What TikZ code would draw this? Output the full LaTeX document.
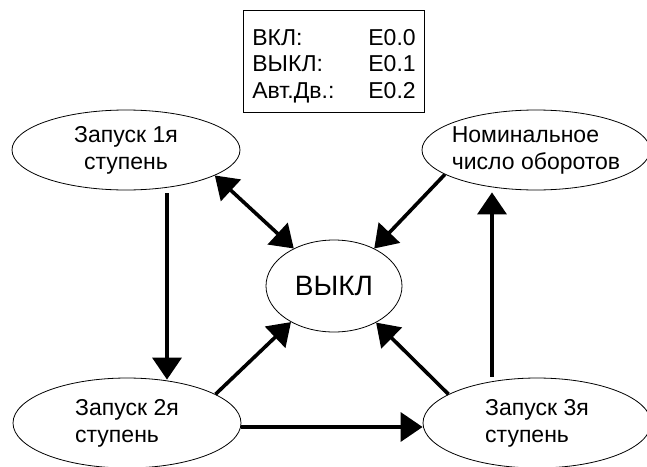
\documentclass[tikz,border=0pt]{standalone}
\usepackage{fontspec}
\setmainfont{Liberation Sans}
\usetikzlibrary{arrows.meta, positioning, shapes.geometric}
\tikzset{
>={Triangle[length=22pt,width=29pt]}, % big filled arrow heads
phase/.style={ellipse, draw, line width=0.8pt, minimum width=228pt, minimum height=80pt, inner xsep=-30pt, inner ysep=-10pt, align=left, font=\fontsize{23}{27}\selectfont}, % the states
flow/.style={->, line width=3.6pt}, % one-way transition
both/.style={<->, line width=3.6pt}, % two-way transition
}
\begin{document}
\begin{tikzpicture}[x=1pt, y=-1pt]
\useasboundingbox (0,0) rectangle (647,466);
\node[draw, line width=0.8pt, anchor=north west, inner xsep=9pt, inner ysep=6pt, font=\fontsize{23}{26.5}\selectfont] (legend) at (243,10)
    {\begin{tabular}{@{}p{116pt}@{}l@{}}\rule{0pt}{29pt}ВКЛ: & E0.0\\ ВЫКЛ: & E0.1\\ Авт.Дв.: & E0.2\end{tabular}};
\node[phase, align=center] (stage1) at (126,150) {Запуск 1я\\ступень};
\node[phase] (nominal) at (536,150) {Номинальное\\число оборотов};
\node[phase, minimum height=90pt] (stage2) at (127,423) {Запуск 2я\\ступень};
\node[phase, minimum height=90pt] (stage3) at (537,423) {Запуск 3я\\ступень};
\node[phase, minimum width=136pt, minimum height=92pt, font=\fontsize{28}{32}\selectfont] (off) at (334,286) {ВЫКЛ};
\draw[flow] ([xshift=41pt,yshift=-3pt]stage1.south) -- ([xshift=40pt,yshift=-2pt]stage2.north);
\draw[flow] ([yshift=-4pt]stage2.east) -- ([yshift=-4pt]stage3.west);
\draw[flow] ([xshift=-45pt,yshift=1pt]stage3.north) -- ([xshift=-44pt,yshift=-2pt]nominal.south);
\draw[both] (stage1.-16) -- (off.137);
\draw[flow] (nominal.195) -- (off.43);
\draw[flow] (stage2.18) -- (off.220);
\draw[flow] (stage3.162) -- (off.-41);
\end{tikzpicture}
\end{document}
